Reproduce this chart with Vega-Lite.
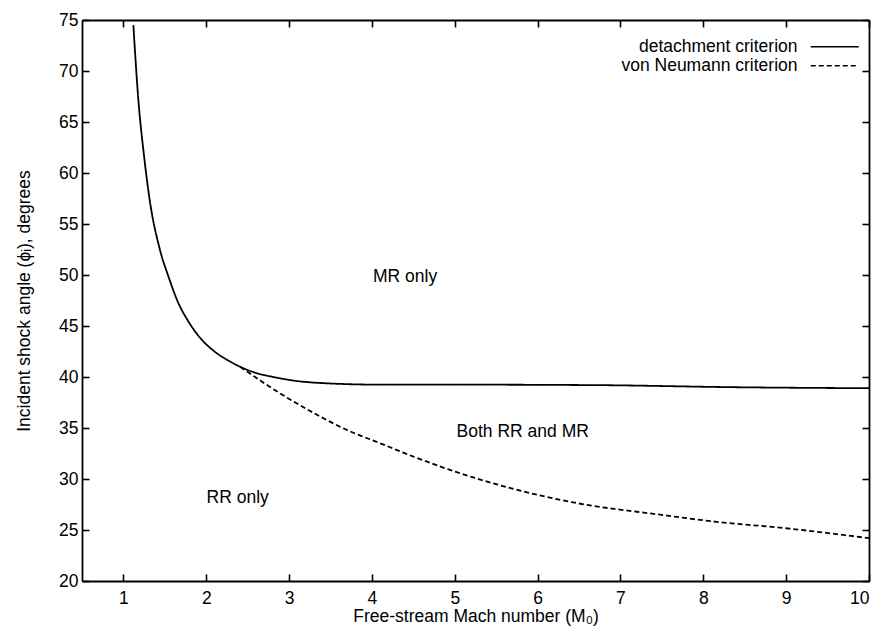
{
  "$schema": "https://vega.github.io/schema/vega-lite/v6.json",
  "width": 787,
  "height": 561,
  "autosize": {"type": "none"},
  "padding": {"left": 82, "top": 20, "right": 16, "bottom": 52},
  "background": "white",
  "config": {
    "view": {"stroke": null},
    "font": "Liberation Sans",
    "axis": {
      "grid": false,
      "domainColor": "black",
      "domainWidth": 1.8,
      "tickColor": "black",
      "tickWidth": 1.6,
      "tickSize": -7,
      "labelColor": "black",
      "labelFontSize": 17.5,
      "labelFont": "Liberation Sans",
      "titleFont": "Liberation Sans",
      "titleFontSize": 17.5,
      "titleFontWeight": "normal",
      "titleColor": "black"
    },
    "legend": {
      "labelFont": "Liberation Sans",
      "labelFontSize": 17.5,
      "labelColor": "black",
      "labelLimit": 400
    }
  },
  "datasets": {
    "curves": [
      {"series": "detachment criterion", "M": 1.12, "phi": 74.5},
      {"series": "detachment criterion", "M": 1.18, "phi": 67.2},
      {"series": "detachment criterion", "M": 1.25, "phi": 61.6},
      {"series": "detachment criterion", "M": 1.32, "phi": 57.2},
      {"series": "detachment criterion", "M": 1.44, "phi": 52.5},
      {"series": "detachment criterion", "M": 1.55, "phi": 49.7},
      {"series": "detachment criterion", "M": 1.65, "phi": 47.5},
      {"series": "detachment criterion", "M": 1.78, "phi": 45.5},
      {"series": "detachment criterion", "M": 1.92, "phi": 43.9},
      {"series": "detachment criterion", "M": 2.1, "phi": 42.5},
      {"series": "detachment criterion", "M": 2.29, "phi": 41.5},
      {"series": "detachment criterion", "M": 2.41, "phi": 41.0},
      {"series": "detachment criterion", "M": 2.6, "phi": 40.4},
      {"series": "detachment criterion", "M": 2.81, "phi": 40.0},
      {"series": "detachment criterion", "M": 3.1, "phi": 39.6},
      {"series": "detachment criterion", "M": 3.41, "phi": 39.4},
      {"series": "detachment criterion", "M": 4.1, "phi": 39.25},
      {"series": "detachment criterion", "M": 4.94, "phi": 39.25},
      {"series": "detachment criterion", "M": 6.75, "phi": 39.2},
      {"series": "detachment criterion", "M": 8.36, "phi": 39.0},
      {"series": "detachment criterion", "M": 10.0, "phi": 38.9},
      {"series": "von Neumann criterion", "M": 2.41, "phi": 41.0},
      {"series": "von Neumann criterion", "M": 2.89, "phi": 38.4},
      {"series": "von Neumann criterion", "M": 3.29, "phi": 36.5},
      {"series": "von Neumann criterion", "M": 3.7, "phi": 34.8},
      {"series": "von Neumann criterion", "M": 4.1, "phi": 33.5},
      {"series": "von Neumann criterion", "M": 4.5, "phi": 32.2},
      {"series": "von Neumann criterion", "M": 4.94, "phi": 30.9},
      {"series": "von Neumann criterion", "M": 5.63, "phi": 29.2},
      {"series": "von Neumann criterion", "M": 6.43, "phi": 27.7},
      {"series": "von Neumann criterion", "M": 7.48, "phi": 26.5},
      {"series": "von Neumann criterion", "M": 8.16, "phi": 25.8},
      {"series": "von Neumann criterion", "M": 8.96, "phi": 25.2},
      {"series": "von Neumann criterion", "M": 10.0, "phi": 24.2}
    ],
    "labels": [
      {"M": 4.4, "phi": 49.8, "text": "MR only"},
      {"M": 5.82, "phi": 34.6, "text": "Both RR and MR"},
      {"M": 2.38, "phi": 28.1, "text": "RR only"}
    ]
  },
  "layer": [
    {
      "data": {"name": "curves"},
      "mark": {"type": "line", "color": "black", "strokeWidth": 1.8, "interpolate": "monotone"},
      "encoding": {
        "x": {
          "field": "M", "type": "quantitative",
          "scale": {"domain": [0.5, 10], "nice": false, "zero": false},
          "axis": {"orient": "bottom", "values": [1, 2, 3, 4, 5, 6, 7, 8, 9, 10], "labelPadding": 15, "title": "Free-stream Mach number (M₀)", "titlePadding": 1}
        },
        "y": {
          "field": "phi", "type": "quantitative",
          "scale": {"domain": [20, 75], "nice": false, "zero": false},
          "axis": {"orient": "left", "values": [20, 25, 30, 35, 40, 45, 50, 55, 60, 65, 70, 75], "labelPadding": 11, "title": "Incident shock angle (ϕᵢ), degrees", "titlePadding": 25}
        },
        "strokeDash": {
          "field": "series", "type": "nominal",
          "scale": {"domain": ["detachment criterion", "von Neumann criterion"], "range": [[1, 0], [5, 3]]},
          "legend": {
            "title": null,
            "orient": "none",
            "legendX": 744,
            "legendY": 18,
            "symbolType": "M-4,0H4",
            "symbolSize": 144,
            "symbolStrokeWidth": 1.6,
            "symbolStrokeColor": "black",
            "symbolFillColor": "transparent",
            "labelAlign": "right",
            "labelOffset": -46,
            "rowPadding": 0,
            "padding": 0
          }
        },
        "order": {"field": "M", "type": "quantitative"}
      }
    },
    {
      "data": {"name": "curves"},
      "mark": {"type": "line", "opacity": 0},
      "encoding": {
        "x": {
          "field": "M", "type": "quantitative",
          "axis": {"orient": "top", "values": [1, 2, 3, 4, 5, 6, 7, 8, 9, 10], "labels": false, "title": null}
        },
        "y": {
          "field": "phi", "type": "quantitative",
          "axis": {"orient": "right", "values": [20, 25, 30, 35, 40, 45, 50, 55, 60, 65, 70, 75], "labels": false, "title": null}
        }
      }
    },
    {
      "data": {"name": "labels"},
      "mark": {"type": "text", "fontSize": 17.5, "color": "black", "align": "center", "baseline": "middle", "font": "Liberation Sans"},
      "encoding": {
        "x": {"field": "M", "type": "quantitative", "axis": null},
        "y": {"field": "phi", "type": "quantitative", "axis": null},
        "text": {"field": "text"}
      }
    }
  ],
  "resolve": {"axis": {"x": "independent", "y": "independent"}}
}
